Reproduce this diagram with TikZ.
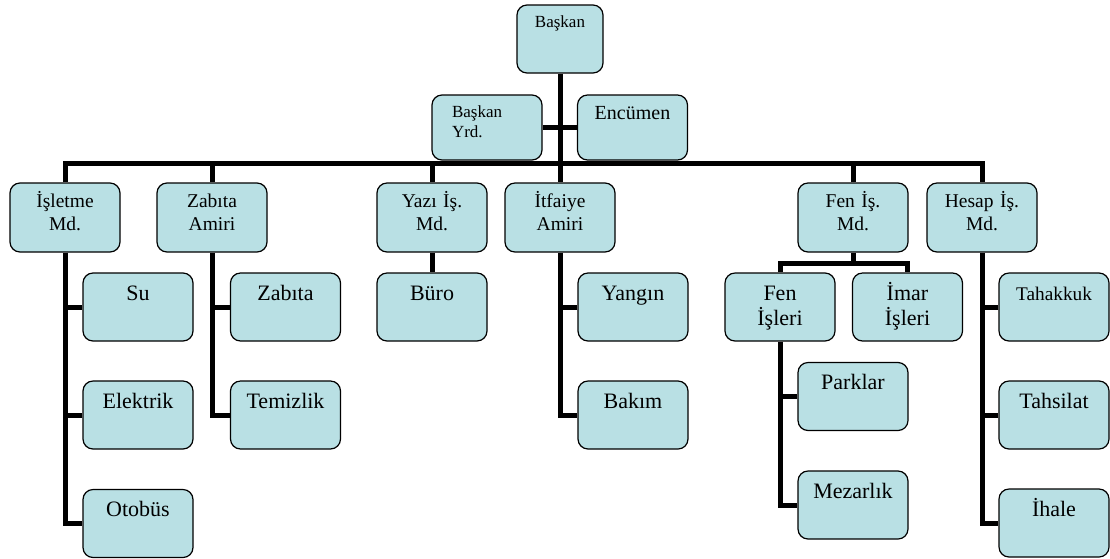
\documentclass[tikz,border=0pt]{standalone}
\usepackage{fontspec}
\setmainfont{Liberation Serif}
\newfontfamily\unitfont{Liberation Serif}
\usetikzlibrary{calc,backgrounds}
\definecolor{unitfill}{RGB}{185,224,228}

\begin{document}
\begin{tikzpicture}[x=1pt,y=-1pt,
    unit/.style={draw, line width=1.2pt, fill=unitfill, rounded corners=10pt,
                 inner sep=0pt, align=center, text width=110pt},
    topunit/.style={unit, font=\unitfont\fontsize{19.5}{23}\selectfont, text height=24pt, text depth=45pt},
    subunit/.style={unit, font=\unitfont\fontsize{22}{25}\selectfont, text height=27pt, text depth=41pt},
    link/.style={draw, line width=5pt}]
                      \useasboundingbox (0,0) rectangle (1110,558);
                      \node[unit, text width=86pt, font=\unitfont\fontsize{17}{20}\selectfont, text height=22pt, text depth=46pt] (baskan) at (560,39) {Başkan};
                      \node[unit, text width=70pt, inner xsep=20pt, align=left, font=\unitfont\fontsize{17}{20}\selectfont, text height=22pt, text depth=43pt] (yrd) at (487,127.5) {Başkan\\Yrd.};
                      \node[unit, font=\unitfont\fontsize{20}{23}\selectfont, text height=24pt, text depth=41pt] (encumen) at (632.5,127.5) {Encümen};
                      \node[topunit] (isletme) at (65,217.5) {İşletme\\Md.};
                      \node[topunit] (zabamir) at (212,217.5) {Zabıta\\Amiri};
                      \node[topunit] (yazi) at (432,217.5) {Yazı İş.\\Md.};
                      \node[topunit] (itfaiye) at (560,217.5) {İtfaiye\\Amiri};
                      \node[topunit] (fenmd) at (853,217.5) {Fen İş.\\Md.};
                      \node[topunit] (hesap) at (982,217.5) {Hesap İş.\\Md.};
                      \node[subunit] (su) at (138,307) {Su};
                      \node[subunit] (elektrik) at (138,415) {Elektrik};
                      \node[subunit] (otobus) at (138,523.5) {Otobüs};
                      \node[subunit] (zabita) at (285.5,307) {Zabıta};
                      \node[subunit] (temizlik) at (285.5,415) {Temizlik};
                      \node[subunit] (buro) at (432,307) {Büro};
                      \node[subunit] (yangin) at (633,307) {Yangın};
                      \node[subunit] (bakim) at (633,415) {Bakım};
                      \node[subunit] (fenis) at (780,307) {Fen\\İşleri};
                      \node[subunit] (imar) at (907.5,307) {İmar\\İşleri};
                      \node[subunit] (parklar) at (853,396.5) {Parklar};
                      \node[subunit] (mezarlik) at (853,505) {Mezarlık};
                      \node[subunit, font=\unitfont\fontsize{19.3}{23}\selectfont] (tahakkuk) at (1054,307) {Tahakkuk};
                      \node[subunit] (tahsilat) at (1054,415) {Tahsilat};
                      \node[subunit] (ihale) at (1054,523) {İhale};
                      \coordinate (bar) at (560,163);
                      \coordinate (fenbar) at (853,263);
                      \begin{scope}[on background layer]
                      \draw[link] (baskan.south) -- (itfaiye.north);
                      \draw[link] (yrd.east) -- (encumen.west);
                      \draw[link] (isletme.north) -- (isletme.north |- bar) -- (hesap.north |- bar) -- (hesap.north);
                      \draw[link] (zabamir.north) -- (zabamir.north |- bar);
                      \draw[link] (yazi.north) -- (yazi.north |- bar);
                      \draw[link] (fenmd.north) -- (fenmd.north |- bar);
                      \draw[link] (isletme.south) |- (otobus.west);
                      \draw[link] (su.west) -- (su.west -| isletme.south);
                      \draw[link] (elektrik.west) -- (elektrik.west -| isletme.south);
                      \draw[link] (zabamir.south) |- (temizlik.west);
                      \draw[link] (zabita.west) -- (zabita.west -| zabamir.south);
                      \draw[link] (yazi.south) -- (buro.north);
                      \draw[link] (itfaiye.south) |- (bakim.west);
                      \draw[link] (yangin.west) -- (yangin.west -| itfaiye.south);
                      \draw[link] (fenmd.south) -- (fenbar);
                      \draw[link] (fenis.north) |- (fenbar) -| (imar.north);
                      \draw[link] (fenis.south) |- (mezarlik.west);
                      \draw[link] (parklar.west) -- (parklar.west -| fenis.south);
                      \draw[link] (hesap.south) |- (ihale.west);
                      \draw[link] (tahakkuk.west) -- (tahakkuk.west -| hesap.south);
                      \draw[link] (tahsilat.west) -- (tahsilat.west -| hesap.south);
                      \end{scope}
                  \end{tikzpicture}
\end{document}
